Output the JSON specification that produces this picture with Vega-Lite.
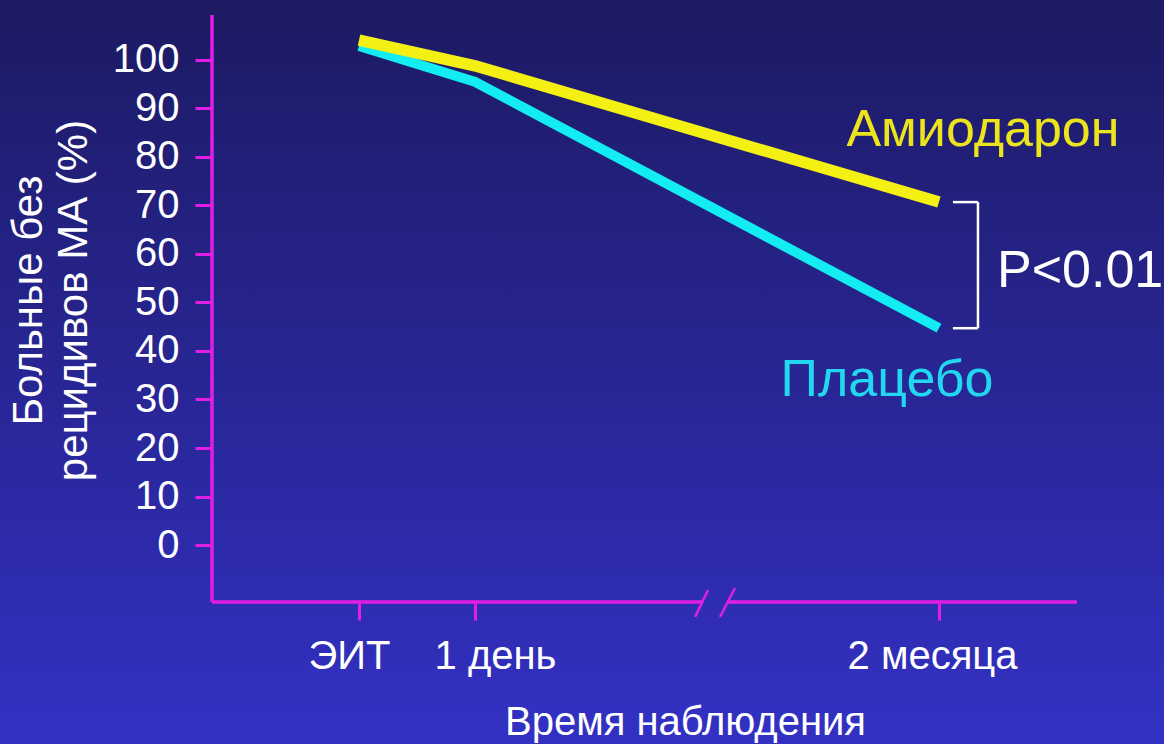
{
  "$schema": "https://vega.github.io/schema/vega-lite/v6.json",
  "width": 1164,
  "height": 744,
  "autosize": {"type": "none"},
  "padding": 0,
  "background": "#28268f",
  "view": {
    "stroke": null,
    "fill": {
      "gradient": "linear",
      "x1": 0, "y1": 0, "x2": 0, "y2": 1,
      "stops": [
        {"offset": 0, "color": "#1c1a62"},
        {"offset": 1, "color": "#3331c4"}
      ]
    }
  },
  "config": {"font": "Liberation Sans"},
  "datasets": {
    "series": [
      {"time": 0, "group": "Амиодарон", "pct": 104.1},
      {"time": 1, "group": "Амиодарон", "pct": 98.8},
      {"time": 5, "group": "Амиодарон", "pct": 70.7},
      {"time": 0, "group": "Плацебо", "pct": 102.9},
      {"time": 1, "group": "Плацебо", "pct": 95.5},
      {"time": 5, "group": "Плацебо", "pct": 44.7}
    ]
  },
  "layer": [
    {
      "data": {"name": "series"},
      "transform": [{"filter": "datum.group == 'Плацебо'"}],
      "mark": {"type": "line", "color": "#12ecf2", "strokeWidth": 10},
      "encoding": {
        "x": {
          "field": "time",
          "type": "quantitative",
          "scale": {"domain": [-3.0948, 6.9397], "nice": false, "zero": false},
          "axis": {
            "values": [0, 1, 5],
            "labelExpr": "datum.value == 0 ? 'ЭИТ' : datum.value == 1 ? '1 день' : '2 месяца'",
            "offset": -142,
            "domain": false,
            "grid": false,
            "ticks": true,
            "tickColor": "#e21ee6",
            "tickSize": 18,
            "tickWidth": 3,
            "labelColor": "#ffffff",
            "labelFontSize": 40,
            "labelPadding": 16,
            "labelOffset": {"condition": [{"test": "datum.value == 0", "value": -10}, {"test": "datum.value == 1", "value": 20}], "value": -7},
            "labelFlush": false,
            "labelOverlap": false,
            "title": "Время наблюдения",
            "titleColor": "#ffffff",
            "titleFontSize": 40,
            "titleFontWeight": "normal",
            "titleX": 685,
            "titleY": 120,
            "titleAlign": "center",
            "titleBaseline": "middle"
          }
        },
        "y": {
          "field": "pct",
          "type": "quantitative",
          "scale": {"domain": [-41.03, 112.37], "nice": false, "zero": false},
          "axis": {
            "values": [0, 10, 20, 30, 40, 50, 60, 70, 80, 90, 100],
            "offset": -212,
            "domain": false,
            "grid": false,
            "tickColor": "#e21ee6",
            "tickSize": 17,
            "tickWidth": 3,
            "labelColor": "#ffffff",
            "labelFontSize": 40,
            "labelPadding": 16,
            "labelFlush": false,
            "labelOverlap": false,
            "title": ["Больные без", "рецидивов МА (%)"],
            "titleColor": "#ffffff",
            "titleFontSize": 42,
            "titleFontWeight": "normal",
            "titleLineHeight": 45,
            "titlePadding": 17,
            "titleY": 300
          }
        }
      }
    },
    {
      "data": {"name": "series"},
      "transform": [{"filter": "datum.group == 'Амиодарон'"}],
      "mark": {"type": "line", "color": "#f4f014", "strokeWidth": 11.5},
      "encoding": {
        "x": {"field": "time", "type": "quantitative"},
        "y": {"field": "pct", "type": "quantitative"}
      }
    },
    {
      "data": {"values": [{}]},
      "layer": [
        {
          "mark": {"type": "rule", "color": "#e21ee6", "strokeWidth": 3.5},
          "encoding": {"x": {"datum": -1.267}, "y": {"datum": 109.28}, "y2": {"datum": -11.75}}
        },
        {
          "mark": {"type": "rule", "color": "#e21ee6", "strokeWidth": 3.5},
          "encoding": {"x": {"datum": -1.267}, "x2": {"datum": 2.966}, "y": {"datum": -11.75}}
        },
        {
          "mark": {"type": "rule", "color": "#e21ee6", "strokeWidth": 3.5},
          "encoding": {"x": {"datum": 3.172}, "x2": {"datum": 6.19}, "y": {"datum": -11.75}}
        },
        {
          "mark": {"type": "rule", "color": "#e21ee6", "strokeWidth": 2.5},
          "encoding": {"x": {"datum": 2.897}, "x2": {"datum": 3.009}, "y": {"datum": -14.85}, "y2": {"datum": -9.28}}
        },
        {
          "mark": {"type": "rule", "color": "#e21ee6", "strokeWidth": 2.5},
          "encoding": {"x": {"datum": 3.112}, "x2": {"datum": 3.241}, "y": {"datum": -14.85}, "y2": {"datum": -8.87}}
        },
        {
          "mark": {"type": "rule", "color": "#ffffff", "strokeWidth": 2.5},
          "encoding": {"x": {"datum": 5.336}, "y": {"datum": 70.7}, "y2": {"datum": 44.7}}
        },
        {
          "mark": {"type": "rule", "color": "#ffffff", "strokeWidth": 2.5},
          "encoding": {"x": {"datum": 5.12}, "x2": {"datum": 5.336}, "y": {"datum": 70.7}}
        },
        {
          "mark": {"type": "rule", "color": "#ffffff", "strokeWidth": 2.5},
          "encoding": {"x": {"datum": 5.12}, "x2": {"datum": 5.336}, "y": {"datum": 44.7}}
        },
        {
          "mark": {"type": "text", "text": "Амиодарон", "fontSize": 52, "color": "#ece41c", "align": "center", "baseline": "middle"},
          "encoding": {"x": {"datum": 5.379}, "y": {"datum": 85.6}}
        },
        {
          "mark": {"type": "text", "text": "Плацебо", "fontSize": 52, "color": "#22d8f0", "align": "center", "baseline": "middle"},
          "encoding": {"x": {"datum": 4.552}, "y": {"datum": 34.0}}
        },
        {
          "mark": {"type": "text", "text": "P<0.01", "fontSize": 52, "color": "#ffffff", "align": "left", "baseline": "middle"},
          "encoding": {"x": {"datum": 5.5}, "y": {"datum": 56.5}}
        }
      ]
    }
  ]
}
